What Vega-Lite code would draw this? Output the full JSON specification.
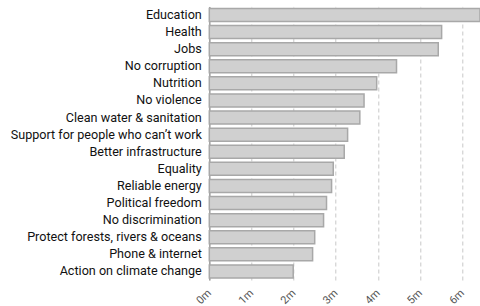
{
  "$schema": "https://vega.github.io/schema/vega-lite/v6.json",
  "width": 270.7,
  "height": 273.6,
  "autosize": {"type": "none"},
  "padding": {"left": 209.3, "top": 6.4, "right": 0, "bottom": 26},
  "background": "white",
  "config": {
    "view": {"stroke": null},
    "font": "Roboto"
  },
  "data": {
    "values": [
      {"goal": "Education", "votes": 6.42},
      {"goal": "Health", "votes": 5.51},
      {"goal": "Jobs", "votes": 5.43},
      {"goal": "No corruption", "votes": 4.44},
      {"goal": "Nutrition", "votes": 3.97},
      {"goal": "No violence", "votes": 3.67},
      {"goal": "Clean water & sanitation", "votes": 3.57},
      {"goal": "Support for people who can’t work", "votes": 3.28},
      {"goal": "Better infrastructure", "votes": 3.2},
      {"goal": "Equality", "votes": 2.94},
      {"goal": "Reliable energy", "votes": 2.9},
      {"goal": "Political freedom", "votes": 2.78},
      {"goal": "No discrimination", "votes": 2.71},
      {"goal": "Protect forests, rivers & oceans", "votes": 2.5},
      {"goal": "Phone & internet", "votes": 2.45},
      {"goal": "Action on climate change", "votes": 1.99}
    ]
  },
  "mark": {"type": "bar", "fill": "#d0d0d0", "stroke": "#a8a8a8", "strokeWidth": 1.5},
  "encoding": {
    "y": {
      "field": "goal",
      "type": "nominal",
      "sort": null,
      "title": null,
      "scale": {"paddingInner": 0.24, "paddingOuter": 0.12},
      "axis": {
        "ticks": false,
        "domainColor": "#a0a0a0",
        "domainWidth": 1.5,
        "labelFontSize": 12.6,
        "labelColor": "#111111",
        "labelPadding": 8,
        "labelFont": "Roboto",
        "labelLimit": 300
      }
    },
    "x": {
      "field": "votes",
      "type": "quantitative",
      "title": null,
      "scale": {"domain": [0, 6.42], "nice": false, "zero": true},
      "axis": {
        "values": [0, 1, 2, 3, 4, 5, 6],
        "labelExpr": "datum.value + 'm'",
        "labelAngle": -45,
        "labelAlign": "right",
        "labelBaseline": "middle",
        "labelFontSize": 11,
        "labelColor": "#555555",
        "labelFont": "Roboto",
        "domain": false,
        "ticks": false,
        "labelPadding": 11,
        "grid": true,
        "gridColor": "#c8c8c8",
        "gridDash": [4, 3],
        "gridWidth": 1
      }
    }
  }
}
